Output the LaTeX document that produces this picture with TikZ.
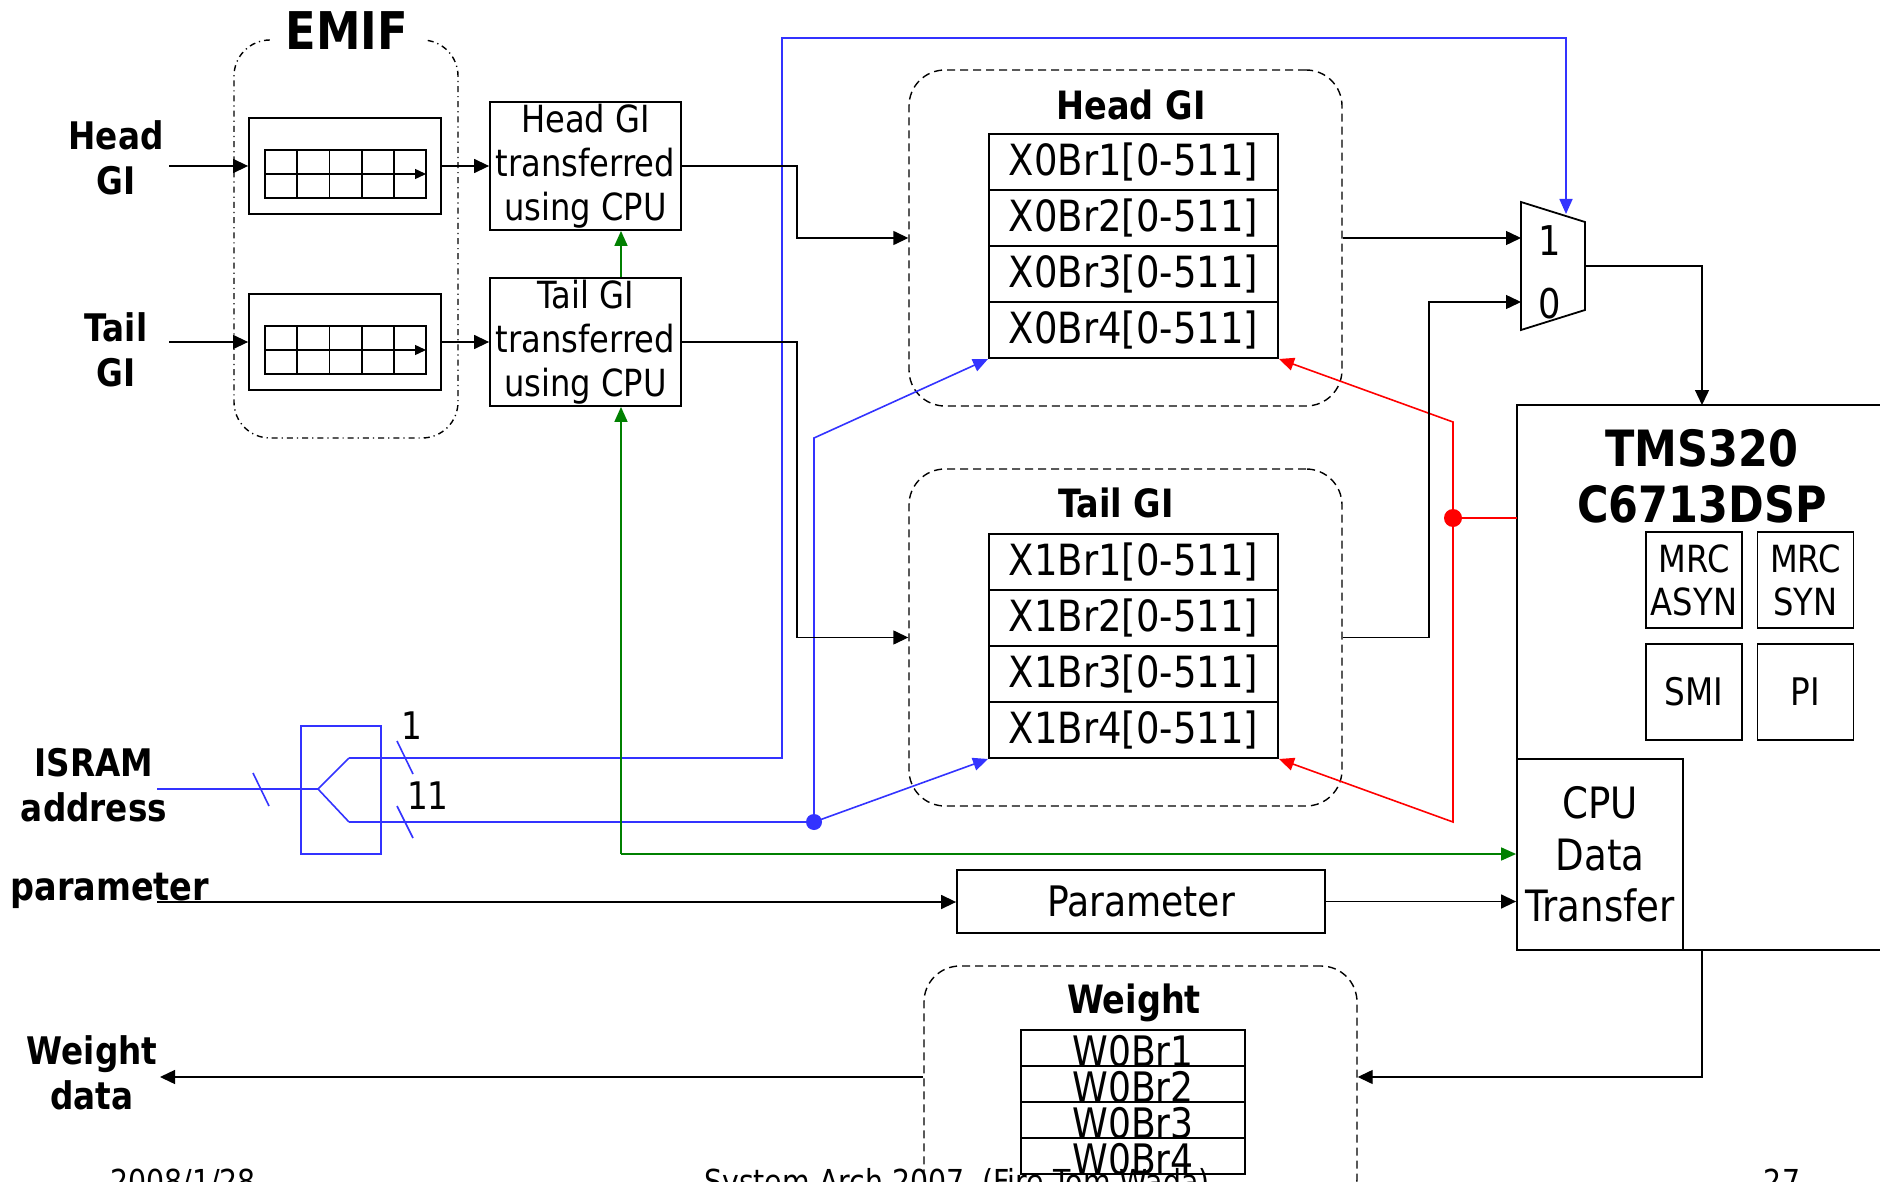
\documentclass[tikz,border=0pt]{standalone}
\usepackage{fontspec}
\setmainfont{DejaVu Sans}[FakeStretch=0.86]
\usetikzlibrary{arrows.meta}
\definecolor{lblue}{RGB}{51,51,255}
\definecolor{dgreen}{RGB}{0,128,0}
\definecolor{pred}{RGB}{255,0,0}
\newcommand{\fsz}[2]{\fontsize{#1}{#2}\selectfont}
\tikzset{
  ln/.style={line width=0.7pt},
  arr/.style={ln,-{Triangle[length=7.5pt,width=7pt]}},
  bl/.style={draw=lblue, line width=0.8pt},
  blarr/.style={bl,-{Triangle[length=7.5pt,width=6.5pt]}},
  grn/.style={draw=dgreen, line width=0.8pt,-{Triangle[length=7.5pt,width=6.5pt]}},
  rd/.style={draw=pred, line width=0.8pt},
  bx/.style={draw, line width=0.9pt, inner sep=0pt, align=center},
  lab/.style={font=\bfseries\fsz{19pt}{22.5pt}, align=center, inner sep=0pt},
  grp/.style={draw, line width=0.7pt, rounded corners=18pt, dash pattern=on 4pt off 2.5pt, inner sep=0pt},
  reg/.style={draw, line width=1pt, minimum width=144.5pt, minimum height=28pt, inner sep=0pt, font=\fsz{21.5pt}{26pt}},
  wreg/.style={draw, line width=1pt, minimum width=112pt, minimum height=18pt, inner sep=0pt},
  ttl/.style={font=\bfseries\fsz{19.5pt}{23pt}, inner sep=0pt},
}
\begin{document}
\begin{tikzpicture}[x=0.5pt,y=-0.5pt]
\useasboundingbox (0,0) rectangle (1880,1182);
\fill[white] (0,0) rectangle (1880,1182);

% ---------- EMIF ----------
\node[draw, dash pattern=on 3pt off 2pt on 0.6pt off 2pt, line width=0.7pt, rounded corners=18pt,
      minimum width=112pt, minimum height=199pt, inner sep=0pt] (emif) at (346,239) {};
\node[fill=white, inner xsep=8pt, inner ysep=2pt, font=\bfseries\fsz{26pt}{30pt}] (emiflab) at (347,31) {EMIF};

\node[lab] (hgl) at (116,158) {Head\\GI};
\node[lab] (tgl) at (116,350) {Tail\\GI};

\node[bx, minimum width=96pt, minimum height=48pt] (hf) at (345,166) {};
\node[bx, minimum width=96pt, minimum height=48pt] (tf) at (345,342) {};
\foreach \y in {174,350}{
  \draw[line width=0.9pt] (265,\y-24) rectangle (426,\y+24);
  \foreach \i in {1,...,4} \draw[line width=0.9pt] (265+\i*32.2,\y-24) -- ++(0,48);
  \draw[line width=0.7pt,-{Triangle[length=5.5pt,width=5pt]}] (265,\y) -- (426,\y);
}

\node[bx, minimum width=95.5pt, minimum height=64pt, font=\fsz{18.7pt}{22pt}] (ht) at (585.5,166) {Head GI\\transferred\\using CPU};
\node[bx, minimum width=95.5pt, minimum height=64pt, font=\fsz{18.7pt}{22pt}] (tt) at (585.5,342) {Tail GI\\transferred\\using CPU};

% ---------- Head GI / Tail GI groups ----------
\node[grp, minimum width=216.5pt, minimum height=168pt] (hg) at (1125.5,238) {};
\node[ttl] (hgt) at (1131,105) {Head GI};
\node[reg] (x01) at (1133.5,162) {X0Br1[0-511]};
\node[reg] (x02) at (1133.5,218) {X0Br2[0-511]};
\node[reg] (x03) at (1133.5,274) {X0Br3[0-511]};
\node[reg] (x04) at (1133.5,330) {X0Br4[0-511]};

\node[grp, minimum width=216.5pt, minimum height=168.5pt] (tg) at (1125.5,637.5) {};
\node[ttl] (tgt) at (1116,503) {Tail GI};
\node[reg] (x11) at (1133.5,562) {X1Br1[0-511]};
\node[reg] (x12) at (1133.5,618) {X1Br2[0-511]};
\node[reg] (x13) at (1133.5,674) {X1Br3[0-511]};
\node[reg] (x14) at (1133.5,730) {X1Br4[0-511]};

% ---------- Mux ----------
\coordinate (m1) at (1521,202);
\coordinate (m2) at (1585,222);
\coordinate (m3) at (1585,310);
\coordinate (m4) at (1521,330);
\draw[line width=0.9pt] (m1) -- (m2) -- (m3) -- (m4) -- cycle;
\node[font=\fsz{20.5pt}{24pt}, inner sep=0pt] (mux1) at (1550,241) {1};
\node[font=\fsz{20.5pt}{24pt}, inner sep=0pt] (mux0) at (1550,304) {0};
\coordinate (mtop) at (1566,214);
\coordinate (min0) at (1521,302);
\coordinate (mout) at (1585,266);

% ---------- DSP ----------
\coordinate (dtl) at (1517,405);
\coordinate (dtr) at (1880,405);
\coordinate (dbl) at (1517,950);
\coordinate (dbr) at (1880,950);
\draw[line width=0.9pt] (dtr) -- (dtl) -- (dbl) -- (dbr);
\node[font=\bfseries\fsz{25pt}{28pt}, align=center, inner sep=0pt] (dspt) at (1702,476) {TMS320\\C6713DSP};
\node[bx, minimum width=48pt, minimum height=48pt, font=\fsz{18.7pt}{21.5pt}] (mrca) at (1694,580) {MRC\\ASYN};
\node[bx, minimum width=48pt, minimum height=48pt, font=\fsz{18.7pt}{21.5pt}] (mrcs) at (1805.5,580) {MRC\\SYN};
\node[bx, minimum width=48pt, minimum height=48pt, font=\fsz{19pt}{22pt}] (smi) at (1694,692) {SMI};
\node[bx, minimum width=48pt, minimum height=48pt, font=\fsz{19pt}{22pt}] (pi) at (1805.5,692) {PI};
\node[bx, minimum width=83pt, minimum height=95.5pt, font=\fsz{21.6pt}{25.75pt}] (cpu) at (1600,854.5) {CPU\\Data\\Transfer};

% ---------- Parameter ----------
\node[bx, minimum width=184pt, minimum height=31.5pt, font=\fsz{21pt}{25pt}] (par) at (1141,901.5) {Parameter};
\node[font=\bfseries\fsz{19.5pt}{22pt}, anchor=base west, inner sep=0pt] (parl) at (10,900) {parameter};

% ---------- Weight ----------
\node[grp, minimum width=216.5pt, minimum height=124.5pt] (wg) at (1140.5,1090.5) {};
\node[ttl] (wgt) at (1134,1003) {Weight};
\foreach \i/\y in {1/1048,2/1084,3/1120,4/1156}{
  \node[wreg] (w\i) at (1133,\y) {};
  \node[anchor=base, font=\fsz{21pt}{24pt}, inner sep=0pt] (wt\i) at (1133,\y+18) {W0Br\i};
}
\node[lab] (wdl) at (92,1073) {Weight\\data};

% ---------- ISRAM ----------
\node[lab] (isl) at (94,785) {ISRAM\\address};
\node[draw=lblue, line width=0.8pt, minimum width=40pt, minimum height=64pt, inner sep=0pt] (spl) at (341,790) {};
\coordinate (isin) at (157,789);
\coordinate (sp) at (318,789);
\coordinate (su) at (349,758);
\coordinate (sl) at (349,822);
\coordinate (bdot) at (814,822);
\coordinate (bup) at (814,438);
\coordinate (bcorner) at (782,38);
\draw[bl] (isin) -- (sp);
\draw[bl] (253,773) -- (269,806);
\draw[bl] (su) -- (sp) -- (sl);
\draw[bl] (397,741) -- (413,774);
\draw[bl] (397,806) -- (413,838);
\node[font=\fsz{19pt}{22pt}, inner sep=0pt] (l1) at (412,726) {1};
\node[font=\fsz{19pt}{22pt}, inner sep=0pt] (l11) at (428,796) {11};
\draw[blarr] (su) -| (bcorner) -| (mtop);
\draw[bl] (sl) -- (bdot);
\draw[blarr] (bdot) -- (bup) -- (x04.south west);
\draw[blarr] (bdot) -- (x14.south west);
\fill[lblue] (bdot) circle (4pt);

% ---------- red ----------
\coordinate (rdot) at (1453,518);
\coordinate (rtop) at (1453,422);
\coordinate (rbot) at (1453,822);
\draw[rd] (rdot) -- (rdot -| dtl);
\draw[rd,{Triangle[length=7.5pt,width=6.5pt]}-{Triangle[length=7.5pt,width=6.5pt]}] (x14.south east) -- (rbot) -- (rtop) -- (x04.south east);
\fill[pred] (rdot) circle (4.5pt);

% ---------- green ----------
\coordinate (gc) at (621,854);
\draw[grn] (gc) -- (gc |- tt.south);
\draw[grn] (gc |- tt.north) -- (gc |- ht.south);
\draw[grn] (gc) -- (gc -| cpu.west);

% ---------- black connectors ----------
\coordinate (hin) at (169,166);
\coordinate (tin) at (169,342);
\draw[arr] (hin) -- (hf.west);
\draw[arr] (tin) -- (tf.west);
\draw[arr] (hf.east) -- (ht.west);
\draw[arr] (tf.east) -- (tt.west);
\draw[arr] (ht.east) -- ++(115,0) |- (hg.west);
\draw[arr] (tt.east) -- ++(115,0) |- (tg.west);
\draw[arr] (hg.east) -- (hg.east -| m1);
\coordinate (tj) at (1429,637.5);
\draw[arr] (tg.east) -- (tj) |- (min0);
\coordinate (dspin) at (1702,405);
\draw[arr] (mout) -| (dspin);
\coordinate (pin) at (157,902);
\draw[arr] (pin) -- (pin -| par.west);
\draw[arr] (par.east) -- (par.east -| cpu.west);
\coordinate (dspout) at (1702,950);
\coordinate (wj) at (1702,1077);
\coordinate (wout) at (160,1077);
\draw[arr] (dspout) -- (wj) -- (wj -| wg.east);
\draw[arr] (wj -| wg.west) -- (wout);

% ---------- footer ----------
\node[anchor=base, font=\fsz{16.5pt}{20pt}, inner sep=0pt] (f1) at (183,1193) {2008/1/28};
\node[anchor=base, font=\fsz{16.5pt}{20pt}, inner sep=0pt] (f2) at (957,1193) {System Arch 2007\ \ (Fire Tom Wada)};
\node[anchor=base, font=\fsz{16.5pt}{20pt}, inner sep=0pt] (f3) at (1782,1193) {27};
\end{tikzpicture}
\end{document}
